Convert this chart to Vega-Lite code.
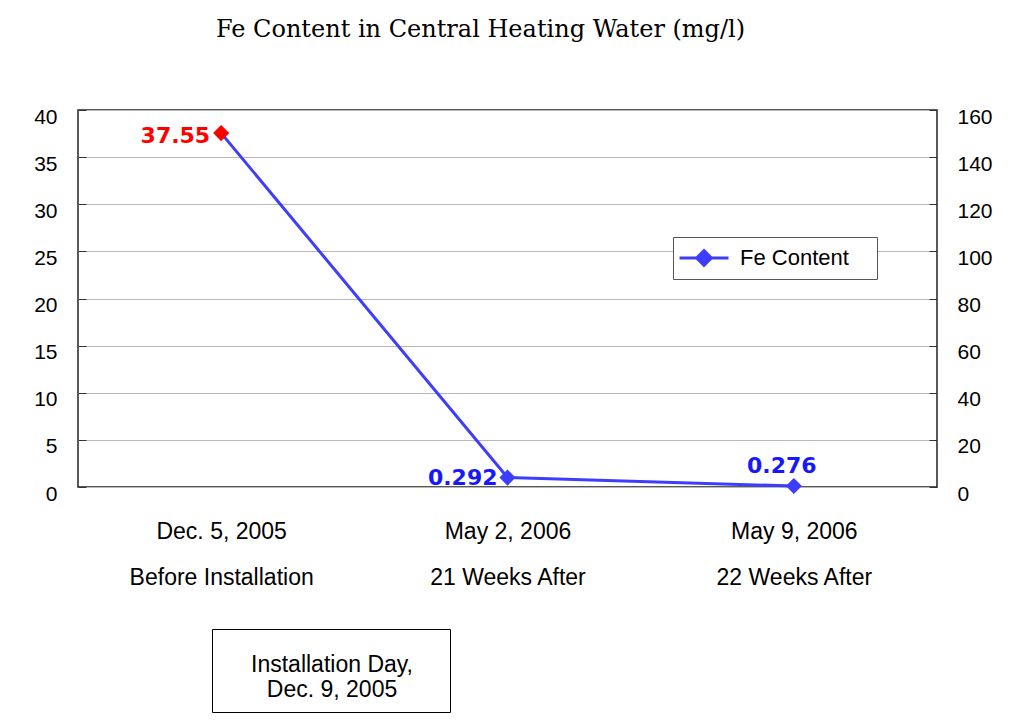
{
  "$schema": "https://vega.github.io/schema/vega-lite/v6.json",
  "width": 859,
  "height": 377,
  "autosize": {"type": "none"},
  "padding": {"left": 78, "top": 110, "right": 87, "bottom": 237},
  "background": "white",
  "title": {
    "text": "Fe Content in Central Heating Water (mg/l)",
    "font": "DejaVu Serif",
    "fontSize": 24,
    "fontWeight": "normal",
    "color": "#000000",
    "anchor": "middle",
    "dx": -27,
    "offset": 64
  },
  "datasets": {
    "fe": [
      {"date": "Dec. 5, 2005|Before Installation", "plotted": 37.55, "label": "37.55", "series": "Fe Content"},
      {"date": "May 2, 2006|21 Weeks After", "plotted": 1.0, "label": "0.292", "series": "Fe Content"},
      {"date": "May 9, 2006|22 Weeks After", "plotted": 0.1, "label": "0.276", "series": "Fe Content"}
    ],
    "note": [
      {"note": "Installation Day,|Dec. 9, 2005"}
    ]
  },
  "data": {"name": "fe"},
  "config": {
    "view": {"stroke": "#222222", "strokeWidth": 1.5},
    "axis": {"labelFont": "Liberation Sans", "labelColor": "#000000"}
  },
  "layer": [
    {
      "encoding": {
        "x": {
          "field": "date",
          "type": "nominal",
          "sort": null,
          "scale": {"type": "point", "padding": 0.5},
          "axis": {
            "title": null,
            "labelExpr": "split(datum.label, '|')",
            "labelAngle": 0,
            "labelFont": "Liberation Sans",
            "labelFontSize": 23,
            "labelLineHeight": 46,
            "labelPadding": 33,
            "labelBaseline": "top",
            "labelLimit": 400,
            "domain": false,
            "ticks": false,
            "grid": false
          }
        },
        "y": {
          "field": "plotted",
          "type": "quantitative",
          "scale": {"domain": [0, 40], "nice": false},
          "axis": {
            "title": null,
            "values": [0, 5, 10, 15, 20, 25, 30, 35, 40],
            "grid": true,
            "gridColor": "#b8b8b8",
            "domain": false,
            "tickSize": -8,
            "tickColor": "#333333",
            "labelFontSize": 21,
            "labelPadding": 29,
            "labelOffset": 7
          }
        }
      },
      "layer": [
        {
          "mark": {"type": "line", "strokeWidth": 3},
          "encoding": {
            "color": {
              "field": "series",
              "type": "nominal",
              "scale": {"range": ["#3d3dff"]},
              "legend": {
                "title": " ",
                "titleOrient": "right",
                "titlePadding": 21,
                "orient": "none",
                "legendX": 595,
                "legendY": 127,
                "padding": 7,
                "fillColor": "white",
                "strokeColor": "#555555",
                "labelFont": "Liberation Sans",
                "labelFontSize": 22,
                "labelColor": "#000000",
                "labelOffset": 22,
                "symbolOffset": 10,
                "symbolType": "M-2,0H2M0,-0.6L0.6,0L0,0.6L-0.6,0Z",
                "symbolSize": 600,
                "symbolStrokeWidth": 3,
                "symbolStrokeColor": "#3d3dff",
                "symbolFillColor": "#3d3dff"
              }
            }
          }
        },
        {
          "mark": {"type": "point", "shape": "diamond", "filled": true, "size": 260, "opacity": 1},
          "encoding": {
            "color": {
              "condition": {"test": "datum.label === '37.55'", "value": "#ff0000"},
              "value": "#3d3dff"
            }
          }
        },
        {
          "transform": [{"filter": "datum.label === '37.55'"}],
          "mark": {"type": "text", "font": "DejaVu Sans", "fontWeight": "bold", "fontSize": 22, "align": "right", "baseline": "middle", "dx": -11, "dy": 3, "color": "#ff0000"},
          "encoding": {"text": {"field": "label"}}
        },
        {
          "transform": [{"filter": "datum.label === '0.292'"}],
          "mark": {"type": "text", "font": "DejaVu Sans", "fontWeight": "bold", "fontSize": 22, "align": "right", "baseline": "middle", "dx": -10, "color": "#1818ff"},
          "encoding": {"text": {"field": "label"}}
        },
        {
          "transform": [{"filter": "datum.label === '0.276'"}],
          "mark": {"type": "text", "font": "DejaVu Sans", "fontWeight": "bold", "fontSize": 22, "align": "center", "baseline": "middle", "dx": -12, "dy": -20, "color": "#1818ff"},
          "encoding": {"text": {"field": "label"}}
        }
      ]
    },
    {
      "mark": {"type": "point", "opacity": 0},
      "encoding": {
        "y": {
          "field": "plotted",
          "type": "quantitative",
          "scale": {"domain": [0, 160], "nice": false},
          "axis": {
            "orient": "right",
            "title": null,
            "values": [0, 20, 40, 60, 80, 100, 120, 140, 160],
            "grid": false,
            "domain": false,
            "tickSize": -8,
            "tickColor": "#333333",
            "labelFontSize": 21,
            "labelPadding": 28,
            "labelOffset": 7
          }
        }
      }
    },
    {
      "data": {"name": "note"},
      "mark": {"type": "point", "opacity": 0},
      "encoding": {
        "shape": {
          "field": "note",
          "type": "nominal",
          "legend": {
            "title": " ",
            "titleOrient": "right",
            "titlePadding": 27,
            "orient": "none",
            "legendX": 134,
            "legendY": 519,
            "padding": 10,
            "fillColor": "white",
            "strokeColor": "#000000",
            "labelExpr": "split(datum.label, '|')",
            "labelAlign": "center",
            "labelOffset": 59,
            "labelFont": "Liberation Sans",
            "labelFontSize": 23,
            "labelColor": "#000000",
            "labelLimit": 400,
            "symbolSize": 2401,
            "symbolOpacity": 0
          }
        }
      }
    }
  ],
  "resolve": {"scale": {"y": "independent"}}
}
